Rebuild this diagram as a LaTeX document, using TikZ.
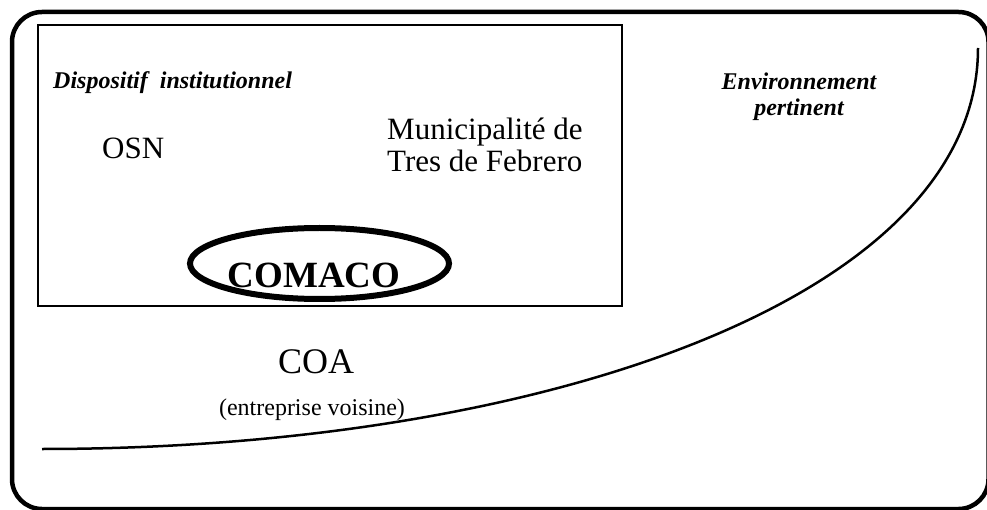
\documentclass[tikz,border=0pt]{standalone}
\usepackage{fontspec}
\setmainfont{Liberation Serif}
\usepackage{tikz}
\usetikzlibrary{calc, positioning}

\begin{document}
\begin{tikzpicture}[x=1pt, y=1pt,
		label/.style={inner sep=0pt, anchor=base west},
		titre/.style={label, font=\fontsize{24}{26}\selectfont\bfseries\itshape}]
			\def\largeur{987};
			\def\hauteur{509};

			\useasboundingbox (0,0) rectangle (\largeur,\hauteur);

			\begin{scope}
				\draw [line width=4.5pt, rounded corners=30pt] (12,0) rectangle (988.5,497);
				\draw [line width=2pt] (38,203) rectangle (622,484);
				\draw [line width=2.5pt] (42,60) .. controls (542,60) and (978,211) .. (978,461);
			\end{scope}

			\begin{scope}
				\node [titre] (dispositif) at (53,420) {Dispositif\ \ institutionnel};
				\node [titre, anchor=base, align=center] (environ) at (799,393) {Environnement\\pertinent};
				\node [label, font=\fontsize{31}{32}\selectfont] (osn) at (102,350) {OSN};
				\node [label, font=\fontsize{31}{32}\selectfont, align=left] (muni) at (387,337) {Municipalité de\\Tres de Febrero};
			\end{scope}

			\begin{scope}
				\draw [line width=6pt] (319.5,245.5) ellipse (129.5 and 35.5);
				\node [label, anchor=base, font=\fontsize{37}{40}\selectfont\bfseries] (comaco) at (314,221) {COMACO};
				\node [label, anchor=base, font=\fontsize{36}{40}\selectfont] (coa) at (316,136) {COA};
				\node [label, anchor=base, font=\fontsize{24}{26}\selectfont] (voisine) at (312,94) {(entreprise voisine)};
			\end{scope}
		\end{tikzpicture}
\end{document}
